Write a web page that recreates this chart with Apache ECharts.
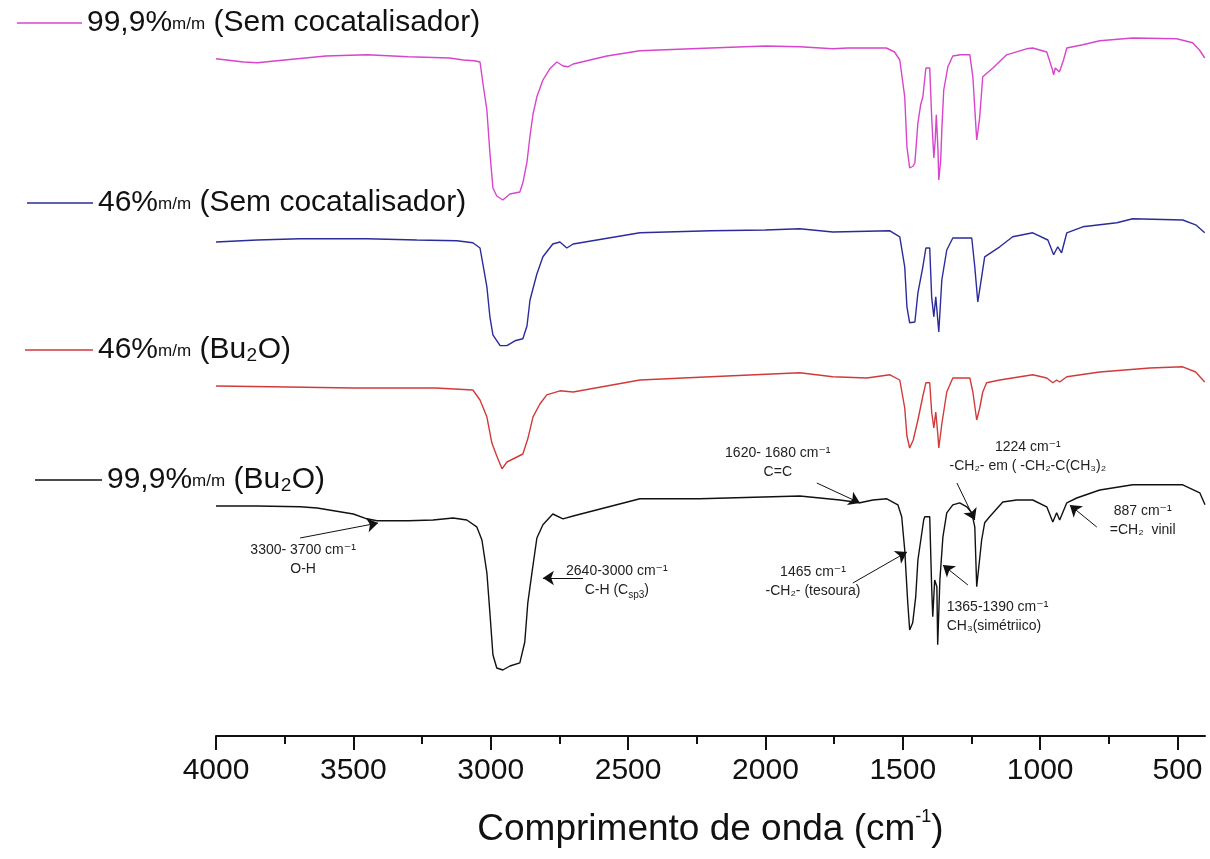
<!DOCTYPE html>
<html lang="pt">
<head>
<meta charset="UTF-8">
<title>FTIR</title>
<style>
    html, body { margin: 0; padding: 0; background: #fff; }
    #chart1 { width: 1210px; height: 859px; }
</style>
</head>
<body>
<div id="chart1"></div>

<script src="https://cdn.jsdelivr.net/npm/echarts@6/dist/echarts.min.js"></script>
<script type="text/javascript">
    // espectros (numero de onda em cm-1, intensidade deslocada em u.a.)
    var pinkWn = [4000,3900,3850,3750,3600,3450,3300,3150,3100,3060,3039,3028,3014,3003,2992,2978,2956,2930,2894,2883,2868,2857,2846,2832,2810,2785,2759,2737,2719,2700,2577,2457,2200,2000,1875,1800,1755,1700,1631,1560,1530,1511,1493,1485,1475,1462,1456,1445,1435,1427,1416,1402,1395,1387,1382,1378,1372,1369,1362,1358,1351,1336,1318,1290,1256,1245,1231,1226,1220,1209,1172,1122,1050,1027,976,955,951,945,940,930,925,915,903,845,783,663,503,445,420,401];
    var pinkVal = [169.3,168.5,168.3,169,170,170.3,169.8,169.5,169,168.8,168.5,163,156.5,145.8,137,135,134,135.5,136,138.3,143.5,150,155.5,159.8,164,166.8,168.5,167.5,167.3,168,170,171.3,172,172.5,172.3,172,171.8,172,172,172,171,169,159.8,147.3,142,142.5,143.3,153.3,157.8,159.8,167,167,154.8,144.5,149,155.3,146.5,139,144,151.5,161.5,167.3,170,170.3,170.3,164.8,149,151.5,154.8,164.8,167,170.3,171.8,172,171,166.5,165.3,167,167.3,166,165.8,169,172,172.8,173.8,174.5,174.3,173.3,171.5,169.5];

    var blueWn = [4000,3850,3694,3451,3269,3123,3065,3039,3028,3014,3003,2992,2966,2941,2912,2883,2868,2857,2832,2810,2774,2748,2723,2700,2457,2200,2000,1875,1755,1547,1511,1493,1485,1475,1456,1445,1427,1416,1402,1395,1387,1380,1369,1358,1340,1318,1249,1238,1227,1213,1202,1147,1100,1027,972,951,936,922,903,845,721,663,481,434,401];
    var blueVal = [123.5,124,124.3,124.3,124,123.8,123.3,122,117.8,112.3,104.8,100.3,97.6,97.6,98.8,99.3,102.5,109,115.5,119.8,123,123.5,122,123,125.8,126.3,126.5,126.8,126,126.3,124.8,117.3,107.3,103.3,103.5,110.8,117.3,122,122,109.8,104.8,109.8,101,114,121.5,124.5,124.5,117.3,108.5,114.8,119.8,122.3,124.8,125.8,124,120.3,122.3,120.8,125.8,127.3,128.3,129.3,129,127.8,125.8];

    var redWn = [4000,3800,3500,3200,3065,3039,3014,2996,2978,2959,2941,2912,2883,2865,2846,2821,2796,2748,2700,2457,2200,1875,1755,1631,1547,1511,1493,1485,1475,1462,1456,1445,1427,1416,1402,1395,1387,1380,1372,1369,1358,1340,1318,1256,1245,1231,1220,1209,1195,1147,1027,976,954,940,929,903,783,601,481,434,401];
    var redVal = [87.5,87.3,87,87,86.5,84,79.8,73.3,70,66.8,68.5,69.5,70.5,74.3,79.8,83,85.3,86.3,86,89,89.8,90.8,89.8,89.5,90.3,89,82,75,72,74,74,79,85,88.3,88.3,81,77,81,75,72,78,86,89.5,89.5,86,79,82,86,88.3,89,90.3,89.5,88.3,89,88.5,89.8,91,92,92.3,91,88.5];

    var blackWn = [4000,3850,3694,3632,3500,3451,3414,3300,3210,3137,3087,3051,3032,3014,3003,2992,2978,2956,2930,2894,2876,2865,2850,2832,2810,2774,2737,2700,2457,2239,1875,1729,1656,1609,1558,1518,1504,1493,1482,1475,1464,1453,1445,1424,1420,1402,1395,1391,1384,1376,1373,1365,1354,1340,1318,1293,1267,1249,1238,1231,1224,1213,1202,1184,1136,1086,1027,976,954,940,929,903,867,783,663,481,419,400];
    var blackVal = [57.5,57.5,57.3,57,55.5,54.3,53.8,53.8,54,54.5,54,52.3,49,40.8,30.8,20.3,17,16.5,17.5,18.3,23.5,33.3,40.8,49.5,52.8,55.5,54.3,55,59.3,59.3,60,59,58.3,59,59.3,57.8,54.8,46.5,33.3,26.5,28.3,34.8,44,54,54.8,54.8,37.3,29.8,39,37.3,22.8,39,49.8,55.8,57.8,58.3,57.3,55.8,52.3,37.3,37.8,49,53.3,54.8,58.5,59,59,57.3,53.5,55.8,54,58.3,59.5,61.5,62.8,62.8,60.8,57.8];

    var majorTicks = [4000,3500,3000,2500,2000,1500,1000,500];
    var minorTicks = [3750,3250,2750,2250,1750,1250,750];

    var seriesNames = ['99,9% m/m (Sem cocatalisador)','46% m/m (Sem cocatalisador)','46% m/m (Bu2O)','99,9% m/m (Bu2O)'];
    var legendMain = ['99,9%','46%','46%','99,9%'];
    var legendTail = [' (Sem cocatalisador)',' (Sem cocatalisador)',' (Bu\u2082O)',' (Bu\u2082O)'];
    var colors = ['#d844cc','#2b2b9c','#d23a3a','#111111'];

    // setas das bandas: [inicio], [ponta]
    var arrowFrom = [[3694,49.5],[2664,39.5],[1813,63.25],[1303,63.25],[794,52.25],[1682,38.25],[1263,37.75]];
    var arrowTo   = [[3410,53.25],[2810,39.5],[1656,58.25],[1238,54],[892,57.75],[1485,46],[1354,42.75]];

    var annoPos = [[3683,44],[2541,38.75],[1955,68.25],[1045,69.75],[627,53.75],[1827,38.5],[1340,29.75]];
    var annoText = [
        '3300- 3700 cm\u207b\u00b9\nO-H',
        '2640-3000 cm\u207b\u00b9\nC-H (C{s|sp3})',
        '1620- 1680 cm\u207b\u00b9\nC=C',
        '1224 cm\u207b\u00b9\n-CH\u2082- em ( -CH\u2082-C(CH\u2083)\u2082',
        '887 cm\u207b\u00b9\n=CH\u2082  vinil',
        '1465 cm\u207b\u00b9\n-CH\u2082- (tesoura)',
        '1365-1390 cm\u207b\u00b9\nCH\u2083(sim\u00e9triico)'
    ];
    var annoAlign = ['center','center','center','center','center','center','left'];

    function pairs(wn, val) {
        return wn.map(function (w, i) { return [w, val[i]]; });
    }

    var font = "'Liberation Sans', Arial, 'DejaVu Sans', sans-serif";

    var legendPlace = [[17, 8, 65], [27, 188, 66], [25, 335, 68], [35, 465, 67]];
    var legends = seriesNames.map(function (n, i) {
        return {
            data: [n],
            left: legendPlace[i][0],
            top: legendPlace[i][1],
            padding: 0,
            icon: 'rect',
            itemWidth: legendPlace[i][2],
            itemHeight: 1.5,
            selectedMode: false,
            formatter: function () {
                return '{a|' + legendMain[i] + '}{b|m/m}{a|' + legendTail[i] + '}';
            },
            textStyle: {
                fontFamily: font,
                rich: {
                    a: { fontSize: 30, lineHeight: 34, color: '#111', fontFamily: font },
                    b: { fontSize: 17, lineHeight: 20, color: '#111', fontFamily: font, verticalAlign: 'bottom', padding: [0, 0, 7, 0] }
                }
            }
        };
    });

    var marks = arrowFrom.map(function (p, i) {
        return [{ coord: p }, { coord: arrowTo[i] }];
    });

    var texts = annoPos.map(function (p, i) {
        return {
            coord: p,
            label: {
                formatter: annoText[i],
                align: annoAlign[i]
            }
        };
    });

    var series = [pairs(pinkWn, pinkVal), pairs(blueWn, blueVal), pairs(redWn, redVal), pairs(blackWn, blackVal)]
        .map(function (d, i) {
            return {
                name: seriesNames[i],
                type: 'line',
                data: d,
                symbol: 'none',
                showSymbol: false,
                color: colors[i],
                lineStyle: { width: 1.4, color: colors[i] },
                silent: true,
                z: 3
            };
        });

    series[3].markLine = {
        silent: true,
        symbol: ['none', 'arrow'],
        symbolSize: 11,
        label: { show: false },
        lineStyle: { color: '#111', width: 1, type: 'solid' },
        emphasis: { disabled: true },
        data: marks
    };
    series[3].markPoint = {
        silent: true,
        symbol: 'circle',
        symbolSize: 0,
        label: {
            show: true,
            position: 'inside',
            color: '#222',
            fontSize: 14,
            lineHeight: 19,
            fontFamily: font,
            rich: { s: { fontSize: 10, lineHeight: 19, color: '#222', verticalAlign: 'bottom' } }
        },
        data: texts
    };

    var myChart1 = echarts.init(document.getElementById('chart1'));
    myChart1.setOption({
        animation: false,
        backgroundColor: '#fff',
        legend: legends,
        grid: { left: 216, right: 5, top: 16, bottom: 123 },
        xAxis: [{
            type: 'value',
            inverse: true,
            min: 400,
            max: 4000,
            position: 'bottom',
            name: '{a|Comprimento de onda (cm}{s|-1}{a|)}',
            nameLocation: 'middle',
            nameGap: 72,
            nameTextStyle: {
                rich: {
                    a: { fontSize: 37, lineHeight: 44, color: '#111', fontFamily: font },
                    s: { fontSize: 18, lineHeight: 18, color: '#111', fontFamily: font, verticalAlign: 'top' }
                }
            },
            axisLine: { show: true, lineStyle: { color: '#111', width: 2 } },
            axisTick: { show: true, length: 14, customValues: majorTicks, lineStyle: { color: '#111', width: 2 } },
            axisLabel: {
                customValues: majorTicks,
                formatter: function (v) { return String(v); },
                fontSize: 30,
                margin: 20,
                color: '#111',
                fontFamily: font
            },
            splitLine: { show: false }
        }, {
            type: 'value',
            inverse: true,
            min: 400,
            max: 4000,
            position: 'bottom',
            offset: 0,
            axisLine: { show: false },
            axisTick: { show: true, length: 8, customValues: minorTicks, lineStyle: { color: '#111', width: 2 } },
            axisLabel: { show: false },
            splitLine: { show: false }
        }],
        yAxis: { type: 'value', min: 0, max: 180, show: false, splitLine: { show: false } },
        series: series
    });
</script>
</body>
</html>
